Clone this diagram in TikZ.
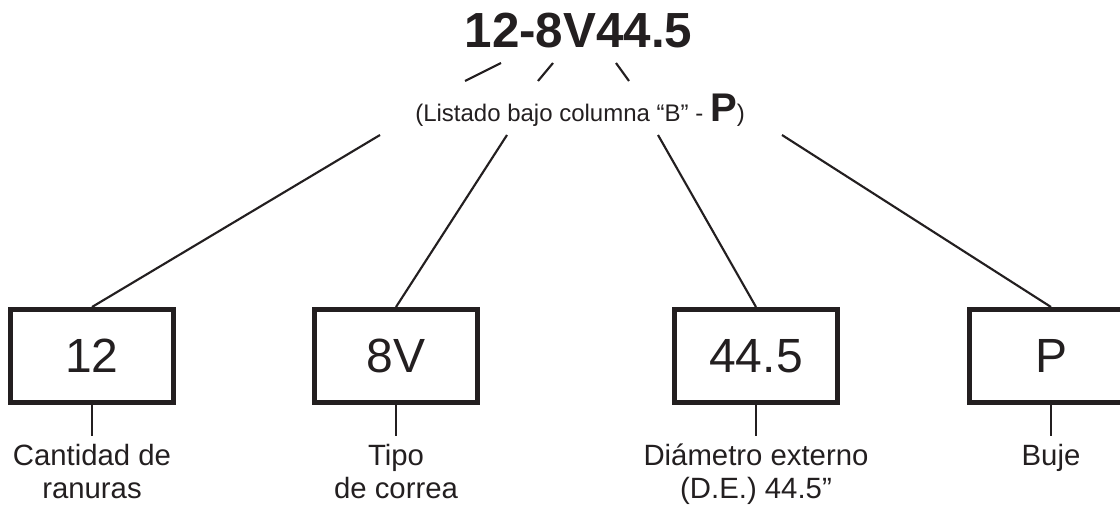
\documentclass[tikz,border=0pt]{standalone}
\usepackage{fontspec}
\setmainfont{Liberation Sans}
\usepackage{tikz}
\usetikzlibrary{positioning}
\usepackage{xcolor}
\definecolor{ink}{RGB}{35,31,32}

\begin{document}
\begin{tikzpicture}[x=0.75pt, y=-0.75pt]
						\tikzstyle{codebox}=[
						draw=ink,
						line width=3.75pt,
						rectangle,
						minimum width=122.25pt,
						minimum height=69.75pt,
						text=ink,
						font=\fontsize{36}{40}\selectfont
						]
						\tikzstyle{meaning}=[
						align=center,
						text=ink,
						inner xsep=0pt,
						inner ysep=6pt,
						font=\fontsize{22}{24.5}\selectfont
						]
						\tikzstyle{link}=[draw=ink, line width=1.6pt]
						\clip (0,0) rectangle (1120,504);
						\node[anchor=base, text=ink, inner sep=0pt, font=\bfseries\fontsize{37}{40}\selectfont] (TITLE) at (578.5,47) {12-8V44.5};
						\node[anchor=base, text=ink, inner sep=0pt, font=\fontsize{18}{20}\selectfont] (SUB) at (580,121) {(Listado bajo columna “B” - {\bfseries\fontsize{30}{30}\selectfont P})};
						%
						\node[codebox] (GROOVES) at (92,356) {12};
						\node[codebox] (BELT) at (396,356) {8V};
						\node[codebox] (OD) at (756,356) {44.5};
						\node[codebox] (HUB) at (1051,356) {P};
						\node[meaning, below=23.25pt of GROOVES] (GROOVESTXT) {Cantidad de\\ranuras};
						\node[meaning, below=23.25pt of BELT] (BELTTXT) {Tipo\\de correa};
						\node[meaning, below=23.25pt of OD] (ODTXT) {Diámetro externo\\(D.E.) 44.5”};
						\node[meaning, below=23.25pt of HUB] (HUBTXT) {Buje};
						%
						\coordinate (A1) at (465,81);
						\coordinate (A2) at (501,63);
						\coordinate (B1) at (538,81);
						\coordinate (B2) at (553,63);
						\coordinate (C1) at (616,63);
						\coordinate (C2) at (629,81);
						\coordinate (TA) at (380,135);
						\coordinate (TB) at (507,135);
						\coordinate (TC) at (658,135);
						\coordinate (TD) at (782,135);
						\draw[link] (A1) -- (A2);
						\draw[link] (B1) -- (B2);
						\draw[link] (C1) -- (C2);
						\draw[link] (TA) -- (GROOVES.north);
						\draw[link] (TB) -- (BELT.north);
						\draw[link] (TC) -- (OD.north);
						\draw[link] (TD) -- (HUB.north);
						\draw[link] (GROOVES.south) -- (GROOVESTXT.north);
						\draw[link] (BELT.south) -- (BELTTXT.north);
						\draw[link] (OD.south) -- (ODTXT.north);
						\draw[link] (HUB.south) -- (HUBTXT.north);
					\end{tikzpicture}
\end{document}
